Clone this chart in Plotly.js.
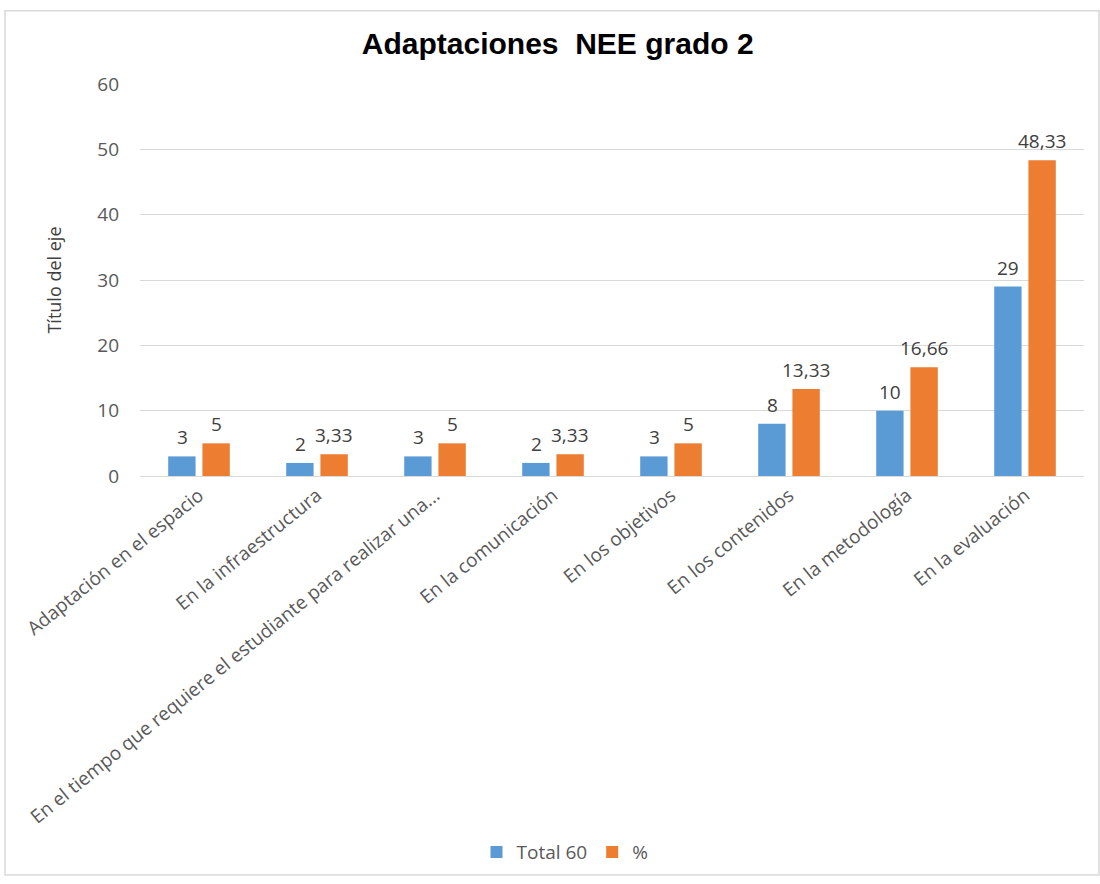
<!DOCTYPE html>
<html>
<head>
<meta charset="utf-8">
<script src="https://cdn.plot.ly/plotly-3.0.1.min.js"></script>
<style>html,body{margin:0;padding:0;background:#fff;}#chart{width:1100px;height:884px;}</style>
</head>
<body>
<div id="chart"></div>
<script>
const categories = [
  "Adaptación en el espacio",
  "En la infraestructura",
  "En el tiempo que requiere el estudiante para realizar una...",
  "En la comunicación",
  "En los objetivos",
  "En los contenidos",
  "En la metodología",
  "En la evaluación"
];
const total60 = [3, 2, 3, 2, 3, 8, 10, 29];
const percent = [5, 3.33, 5, 3.33, 5, 13.33, 16.66, 48.33];
const seriesNames = ["Total 60", "%"];
const yTicks = [0, 10, 20, 30, 40, 50, 60];

const fmt = v => String(v).replace('.', ',');
const labelFont = {family: "Open Sans, sans-serif", size: 19, color: "#404040"};
const colors = ['#5B9BD5', '#ED7D31'];

const traces = [
  {type: 'bar', name: seriesNames[0], x: categories, y: total60,
   marker: {color: colors[0]}, hoverinfo: 'x+y'},
  {type: 'bar', name: seriesNames[1], x: categories, y: percent,
   marker: {color: colors[1]}, hoverinfo: 'x+y'}
];

const L = 140, R = 16, T = 84, B = 404, W = 1100, H = 884;
const pw = W - L - R, ph = H - T - B;

// data labels above each bar (offset to each bar's slot within the group)
const slotShift = 17;
const annotations = [];
[total60, percent].forEach((vals, s) => {
  vals.forEach((v, i) => {
    annotations.push({x: categories[i], y: v, xref: 'x', yref: 'y', text: fmt(v),
      showarrow: false, xanchor: 'center', yanchor: 'bottom',
      xshift: s === 0 ? -slotShift : slotShift, yshift: 4, font: labelFont});
  });
});

const layout = {
  width: W, height: H,
  margin: {l: L, r: R, t: T, b: B},
  paper_bgcolor: '#fff', plot_bgcolor: '#fff',
  title: {text: '<b>Adaptaciones\u00a0 NEE grado 2</b>', x: 0.507, xanchor: 'center', y: 0.951, yanchor: 'middle',
          font: {family: 'Liberation Sans, Arial, sans-serif', size: 30, color: '#000'}},
  barmode: 'group', bargap: 0.42, bargroupgap: 0.2,
  showlegend: true,
  legend: {orientation: 'h', x: (565 - L) / pw, xanchor: 'center', y: (T + ph - 860) / ph, yanchor: 'middle',
           bgcolor: 'rgba(0,0,0,0)',
           font: {family: 'Open Sans, sans-serif', size: 19, color: '#595959'}, traceorder: 'normal'},
  xaxis: {type: 'category', tickangle: -39, automargin: false, showline: true, linecolor: '#d9d9d9',
          ticks: '', tickfont: {family: 'Open Sans, sans-serif', size: 19, color: '#595959'}, showgrid: false},
  yaxis: {range: [0, 60], tickvals: yTicks, automargin: false, showgrid: true, gridcolor: '#d9d9d9',
          zeroline: false, showline: false, ticks: '', ticklen: 0, ticklabelstandoff: 20,
          tickfont: {family: 'Open Sans, sans-serif', size: 19, color: '#595959'},
          title: {text: 'Título del eje', standoff: 30,
                  font: {family: 'Open Sans, sans-serif', size: 18, color: '#404040'}}},
  annotations: annotations,
  shapes: [{type: 'rect', xref: 'paper', yref: 'paper',
            x0: (5 - L) / pw, x1: (1099 - L) / pw, y0: (T + ph - 883) / ph, y1: (T + ph - 10) / ph,
            line: {color: '#d9d9d9', width: 1.5}, fillcolor: 'rgba(0,0,0,0)', layer: 'below'}]
};

Plotly.newPlot('chart', traces, layout, {displayModeBar: false, responsive: false});
</script>
</body>
</html>
